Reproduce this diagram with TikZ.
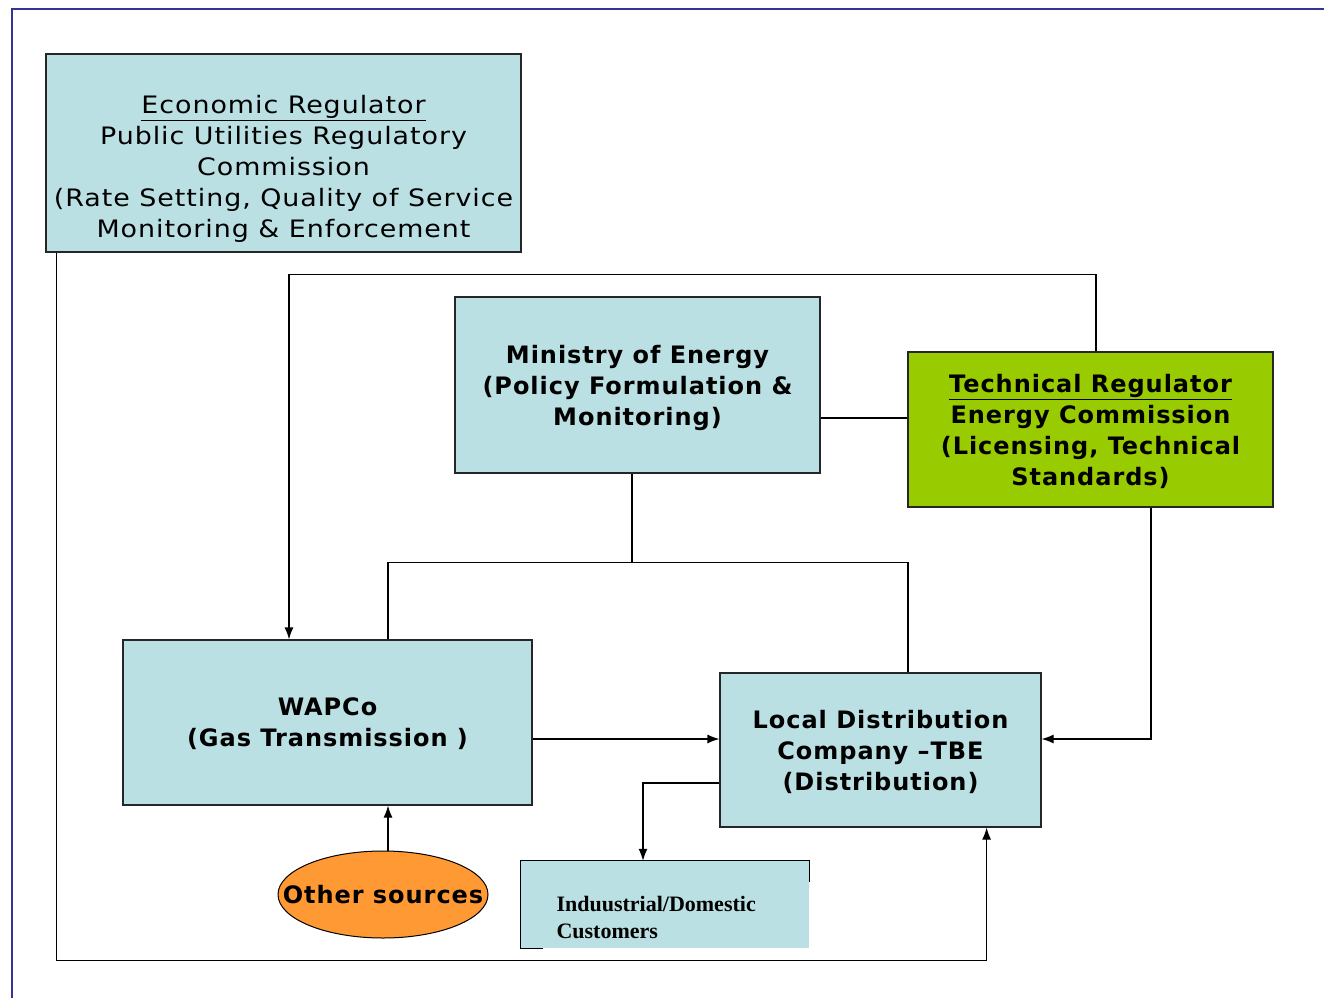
\documentclass[tikz,border=0pt]{standalone}
\usepackage{fontspec}
\setmainfont{DejaVu Sans}[FakeStretch=1.12, LetterSpace=4,
  BoldFeatures={FakeStretch=1.0, LetterSpace=4}]
\newfontfamily\custfont{Liberation Serif}
\usetikzlibrary{shapes.geometric}
\usetikzlibrary{arrows.meta}
\definecolor{boxblue}{HTML}{BBE0E3}
\definecolor{techgreen}{HTML}{99CC00}
\definecolor{srcorange}{HTML}{FF9933}
\definecolor{frameblue}{HTML}{333399}
\tikzset{
  orgbox/.style={draw=black!85, line width=1.2pt, fill=boxblue, inner sep=0pt, text depth=0pt,
    align=center, font=\fontsize{24}{31}\selectfont},
  link/.style={draw=black, line width=1.2pt},
  flow/.style={link, -{Latex[length=12pt,width=9pt]}},
}

\begin{document}
\begin{tikzpicture}[x=1pt, y=-1pt]
            \useasboundingbox (0,0) rectangle (1324,998);
            \draw [frameblue, line width=2pt] (12,998) -- (12,9) -- (1324,9);

            % boxes
            \node [orgbox, minimum width=475pt, minimum height=198pt] (econ) at (283.5,153) {};
            \node [align=center, font=\fontsize{24}{31}\selectfont] (econtext) at ([yshift=-16pt]econ.center)
                {\underline{Economic Regulator}\\Public Utilities Regulatory\\Commission\\
                 (Rate Setting, Quality of Service\\Monitoring \& Enforcement};

            \node [orgbox, minimum width=365pt, minimum height=176pt] (min) at (637.5,385)
                {\bfseries Ministry of Energy\\\bfseries (Policy Formulation \&\\\bfseries Monitoring)};

            \node [orgbox, fill=techgreen, minimum width=365pt, minimum height=155pt] (tech) at (1090.5,429.5)
                {\bfseries\underline{Technical Regulator}\\\bfseries Energy Commission\\
                 \bfseries (Licensing, Technical\\\bfseries Standards)};

            \node [orgbox, minimum width=409pt, minimum height=165pt] (wap) at (327.5,722.5)
                {\bfseries WAPCo\\\bfseries (Gas Transmission )};

            \node [orgbox, minimum width=321pt, minimum height=154pt] (ldc) at (880.5,750)
                {\bfseries Local Distribution\\\bfseries Company --TBE\\\bfseries (Distribution)};

            \node [fill=boxblue, minimum width=288pt, minimum height=87pt, inner sep=0pt] (cust) at (665,904.5) {};
            \node [anchor=west, align=left, font=\custfont\bfseries\fontsize{22}{27}\selectfont] (custtext)
                at (553,917.5) {Induustrial/Domestic\\Customers};
            \draw [link, line width=1pt] ([xshift=22pt]cust.south west) -- (cust.south west) -- (cust.north west)
                -- (cust.north east) -- ([yshift=-21pt]cust.north east);

            \node [ellipse, draw, line width=1pt, fill=srcorange, minimum width=210pt, minimum height=87pt,
                inner xsep=-30pt, inner ysep=0pt, font=\bfseries\fontsize{24}{31}\selectfont] (src) at (383,894.5) {Other sources};

            % connectors
            \draw [flow] ([xshift=11pt]econ.south west) -- ++(0,708) -| ([xshift=-55pt]ldc.south east);
            \draw [flow] ([xshift=5.5pt]tech.north) -- ++(0,-77) -| ([xshift=-38.5pt]wap.north);
            \draw [link] ([yshift=-33pt]min.east) -- ([yshift=-33pt]min.east -| tech.west);
            \draw [link] ([xshift=-5.5pt]min.south) -- ++(0,89) coordinate (split);
            \draw [link] ([xshift=60.5pt]wap.north) |- (split) -| ([xshift=27.5pt]ldc.north);
            \draw [flow] ([xshift=60.5pt]tech.south) |- ([yshift=11pt]ldc.east);
            \draw [flow] ([yshift=-16.5pt]wap.east) -- ([yshift=-16.5pt]wap.east -| ldc.west);
            \draw [flow] ([yshift=-33pt]ldc.west) -| ([xshift=-22pt]cust.north);
            \draw [flow] ([xshift=5pt]src.north) -- ([xshift=5pt]src.north |- wap.south);
\end{tikzpicture}
\end{document}
